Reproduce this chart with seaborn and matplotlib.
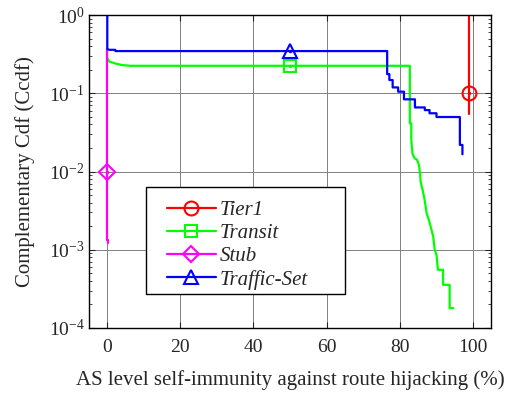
import numpy as np
import pandas as pd
import matplotlib
matplotlib.use("Agg")
import matplotlib.pyplot as plt
from matplotlib.lines import Line2D
from matplotlib.patches import Rectangle
import seaborn as sns

# Ccdf curves, vertices
tier1_x = [99.0, 99.0]
tier1_y = [1.0, 0.054]

transit_x = [0.1, 0.6, 2.2, 4.0, 6.3, 82.8, 82.8, 83.2, 83.2, 83.5, 84.1, 84.8, 85.3,
             85.6, 85.75, 86.4, 86.85, 87.4, 88.0, 88.5, 89.2, 89.6, 90.1, 90.5,
             90.5, 91.9, 91.9, 93.7, 93.7, 94.7]
transit_y = [0.28, 0.254, 0.241, 0.23, 0.225, 0.225, 0.0414, 0.0414, 0.0253, 0.0171,
             0.0148, 0.0141, 0.0121, 0.0095, 0.00743, 0.00554, 0.00434, 0.00293,
             0.00241, 0.00198, 0.00148, 0.000998, 0.00086, 0.000554, 0.000554,
             0.000554, 0.000356, 0.000356, 0.000179, 0.000179]

stub_x = [0.0, 0.0, 0.1, 0.1]
stub_y = [0.37, 0.00135, 0.00135, 0.00122]

traffic_x = [0.0, 0.0, 0.5, 2.2, 2.2, 76.6, 76.6, 77.2, 77.2, 78.1, 78.1, 79.6, 79.6,
             81.2, 81.2, 84.2, 84.2, 86.9, 86.9, 88.2, 88.2, 90.1, 90.1, 96.5, 96.5,
             97.2, 97.2]
traffic_y = [1.0, 0.37, 0.36, 0.36, 0.347, 0.347, 0.176, 0.176, 0.148, 0.148, 0.119,
             0.119, 0.105, 0.105, 0.0838, 0.0838, 0.066, 0.066, 0.061, 0.061, 0.0556,
             0.0556, 0.0498, 0.0498, 0.0219, 0.0219, 0.0166]

# one marker per curve
marker_x = [99.0, 50.0, 0.0, 50.0]
marker_y = [0.1, 0.225, 0.01, 0.347]

labels = ["Tier1", "Transit", "Stub", "Traffic-Set"]
colors = ["#ff0000", "#00ff00", "#ff00ff", "#0000ff"]
markers = ["o", "s", "D", "^"]
msizes = [10, 9, 8, 10]

sns.set_style("ticks")
plt.rcParams["font.family"] = ["Liberation Serif", "DejaVu Serif"]
plt.rcParams["mathtext.fontset"] = "custom"
plt.rcParams["mathtext.rm"] = "Liberation Serif"
plt.rcParams["mathtext.it"] = "Liberation Serif:italic"

fig = plt.figure(figsize=(5.13, 3.98), dpi=100)
ax = fig.add_axes([0.1735, 0.176, 0.7835, 0.786])

curves = [(tier1_x, tier1_y), (transit_x, transit_y), (stub_x, stub_y), (traffic_x, traffic_y)]
frames = []
for (xs, ys), lab in zip(curves, labels):
    frames.append(pd.DataFrame({"x": xs, "y": ys, "series": lab, "order": np.arange(len(xs))}))
df = pd.concat(frames, ignore_index=True)

# draw order: transit, stub, tier1, traffic on top
for lab in ["Transit", "Stub", "Tier1", "Traffic-Set"]:
    i = labels.index(lab)
    sub = df[df["series"] == lab]
    sns.lineplot(data=sub, x="x", y="y", sort=False, estimator=None, color=colors[i],
                 linewidth=1.6, ax=ax, legend=False)

for i, lab in enumerate(labels):
    ax.plot([marker_x[i]], [marker_y[i]], linestyle="none", marker=markers[i],
            markersize=msizes[i], markerfacecolor="none", markeredgecolor=colors[i],
            markeredgewidth=1.5, zorder=5)
    ax.plot([marker_x[i]], [marker_y[i]], linestyle="none", marker=".",
            markersize=3, color=colors[i], zorder=5)

ax.set_yscale("log")
ax.set_xlim(-5, 105)
ax.set_ylim(1e-4, 1)
ax.set_xticks([0, 20, 40, 60, 80, 100])
ax.grid(True, which="major", color="#808080", linewidth=0.7)
ax.tick_params(which="both", direction="in", top=True, right=True, labelsize=14)
ax.tick_params(axis="x", pad=8)
ax.tick_params(axis="y", pad=3)
ax.tick_params(which="major", length=4)
ax.tick_params(which="minor", length=2.5)
for s in ax.spines.values():
    s.set_linewidth(1.0)
    s.set_color("black")

ax.set_xlabel("AS level self-immunity against route hijacking (%)", fontsize=15, labelpad=10)
ax.set_ylabel("Complementary Cdf (Ccdf)", fontsize=15, labelpad=10)

# legend box (MATLAB style, wide right margin)
ax.add_patch(Rectangle((0.143, 0.1086), 0.494, 0.3428, transform=ax.transAxes,
                       facecolor="white", edgecolor="black", linewidth=1.0, zorder=6))
handles = [Line2D([0], [0], color=colors[i], linewidth=1.6, marker=markers[i],
                  markersize=msizes[i], markerfacecolor="none", markeredgewidth=1.5)
           for i in range(4)]
leg = ax.legend(handles, labels, loc="upper left", bbox_to_anchor=(0.1933, 0.408),
                frameon=False, handlelength=2.35, prop={"style": "italic", "size": 15},
                borderpad=0, labelspacing=0.17, handletextpad=0.19, borderaxespad=0)
leg.set_zorder(7)

fig.savefig("out.png", dpi=100)
